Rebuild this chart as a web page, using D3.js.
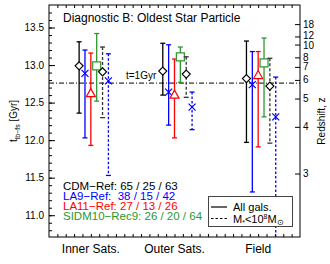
<!DOCTYPE html>
<html>
<head>
<meta charset="utf-8">
<script src="https://cdn.jsdelivr.net/npm/d3@7"></script>
<style>
  body { margin: 0; background: #fff; }
  svg { display: block; font-family: "Liberation Sans", Arial, sans-serif; }
</style>
</head>
<body>
<div id="chart"></div>
<script>
// groups along the x axis
var groups = ["Inner Sats.", "Outer Sats.", "Field"];

// series: name, colour, marker, dashed (dwarf subsample) and slot offset inside a group
var seriesNames = ["CDM all", "LA9 all", "LA11 all", "SIDM all", "CDM dwarf", "LA9 dwarf"];
var seriesColors = ["#000000", "#0000ff", "#ff0000", "#2e962e", "#000000", "#0000ff"];
var seriesMarkers = ["diamond", "cross", "triangle", "square", "diamond", "cross"];
var seriesDashed = [false, false, false, false, true, true];
var seriesSlot = [-2, -1, 0, 1, 2, 3];

// median / upper / lower lookback time of the oldest star particle [Gyr]
var medians = [
  [12.99, 12.92, 12.82],
  [12.89, 12.64, 12.74],
  [12.62, 12.60, 12.86],
  [12.99, 13.11, 13.03],
  [12.91, 12.88, 12.72],
  [12.79, 12.44, 12.31]
];
var highs = [
  [13.31, 13.29, 13.32],
  [13.20, 13.27, 13.18],
  [13.16, 13.08, 13.18],
  [13.42, 13.24, 13.36],
  [13.24, 13.11, 13.09],
  [13.15, 12.64, 12.84]
];
var lows = [
  [12.36, 12.60, 11.97],
  [12.03, 12.20, 11.31],
  [11.93, 12.03, 11.91],
  [12.52, 12.77, 12.31],
  [12.30, 12.57, 11.96],
  [11.53, 12.14, 10.50]
];

// legend text
var countLabels = ["CDM\u2212Ref: 65 / 25 / 63", "LA9\u2212Ref:  38 / 15 / 42", "LA11\u2212Ref: 27 / 13 / 26", "SIDM10\u2212Rec9: 26 / 20 / 64"];
var countColors = ["#000000", "#0000ff", "#ff0000", "#2e962e"];

var yTicks = [11.0, 11.5, 12.0, 12.5, 13.0, 13.5];
var zTicks = [18, 12, 10, 8, 7, 6, 5, 4, 3];
var tOneGyr = 12.76;

var W = 330, H = 264;
var m = { l: 49, r: 300, t: 5, b: 237 };

var svg = d3.select("#chart").append("svg")
  .attr("width", W)
  .attr("height", H);

var x = d3.scaleLinear().domain([0, 3]).range([m.l, m.r]);
var y = d3.scaleLinear().domain([10.71, 13.8]).range([m.b, m.t]);

// lookback time at redshift z (flat LCDM, WMAP7-like)
var H0 = 70.4, Om = 0.272, OL = 1 - Om;
function age(z) {
  var th = 977.8 / H0;
  return 2 / (3 * Math.sqrt(OL)) * th * Math.asinh(Math.sqrt(OL / Om) * Math.pow(1 + z, -1.5));
}
function lookback(z) { return age(0) - age(z); }

svg.append("defs").append("clipPath").attr("id", "clip")
  .append("rect").attr("x", m.l).attr("y", m.t).attr("width", m.r - m.l).attr("height", m.b - m.t);

// left axis: major ticks + minor ticks every 0.1
var gl = svg.append("g").attr("transform", `translate(${m.l},0)`);
gl.call(d3.axisRight(y).tickValues(d3.range(10.8, 13.75, 0.1)).tickSize(3).tickFormat(""));
gl.append("g").call(d3.axisRight(y).tickValues(yTicks).tickSize(6).tickFormat(""));
gl.selectAll(".domain").remove();
gl.selectAll("line").attr("stroke", "#000");
svg.append("g").selectAll("text").data(yTicks).join("text")
  .attr("x", m.l - 5).attr("y", d => y(d) + 3.5)
  .attr("text-anchor", "end").attr("font-size", 10)
  .text(d => d3.format(".1f")(d));

// bottom and top minor ticks
var gb = svg.append("g").attr("transform", `translate(0,${m.b})`)
  .call(d3.axisTop(x).tickValues(d3.range(0.1, 3, 0.1)).tickSize(3).tickFormat(""));
var gt = svg.append("g").attr("transform", `translate(0,${m.t})`)
  .call(d3.axisBottom(x).tickValues(d3.range(0.1, 3, 0.1)).tickSize(3).tickFormat(""));
gb.selectAll(".domain").remove();
gt.selectAll(".domain").remove();
svg.append("g").selectAll("text").data(groups).join("text")
  .attr("x", (d, i) => x(i + 0.5)).attr("y", m.b + 16)
  .attr("text-anchor", "middle").attr("font-size", 12)
  .text(d => d);

// right axis: redshift
var gr = svg.append("g").attr("transform", `translate(${m.r},0)`);
gr.call(d3.axisLeft(y).tickValues(zTicks.map(lookback)).tickSize(5).tickFormat(""));
gr.selectAll(".domain").remove();
svg.append("g").selectAll("text").data(zTicks).join("text")
  .attr("x", m.r + 3).attr("y", d => y(lookback(d)) + (d === 12 ? 2.5 : d === 10 ? 4.5 : 3.5))
  .attr("font-size", 10)
  .text(d => d);

// axis titles
var yl = svg.append("text")
  .attr("transform", `translate(17,${(m.t + m.b) / 2}) rotate(-90)`)
  .attr("text-anchor", "middle").attr("font-size", 10);
yl.append("tspan").text("t");
yl.append("tspan").attr("font-size", 7).attr("dy", 2.5).text("lb\u2212fs");
yl.append("tspan").attr("dy", -2.5).text(" [Gyr]");
svg.append("text")
  .attr("transform", `translate(325,${(m.t + m.b) / 2}) rotate(-90)`)
  .attr("text-anchor", "middle").attr("font-size", 10)
  .text("Redshift, z");

// title
svg.append("text").attr("x", 63).attr("y", 22).attr("font-size", 12)
  .text("Diagnostic B: Oldest Star Particle");

// t = 1 Gyr line
svg.append("line")
  .attr("x1", m.l).attr("x2", m.r)
  .attr("y1", y(tOneGyr)).attr("y2", y(tOneGyr))
  .attr("stroke", "#000").attr("stroke-width", 1)
  .attr("stroke-dasharray", "5,2,1,2");
svg.append("text").attr("x", 126).attr("y", y(tOneGyr) - 4).attr("font-size", 10)
  .text("t=1Gyr");

// error bars + markers
var plot = svg.append("g").attr("clip-path", "url(#clip)");
var bars = [];
seriesNames.forEach(function (s, si) {
  groups.forEach(function (g, gi) {
    bars.push({
      si: si,
      xv: gi + 0.5 + seriesSlot[si] * 0.07,
      med: medians[si][gi], hi: highs[si][gi], lo: lows[si][gi]
    });
  });
});

function dashOf(d) {
  if (!seriesDashed[d.si]) return null;
  return d.si === 4 ? "3,2" : "2.5,2";
}
function colOf(d) {
  if (d.si === 4) return "#333";
  return seriesColors[d.si];
}

var bg = plot.selectAll("g.bar").data(bars).join("g").attr("class", "bar");
bg.append("line")
  .attr("x1", d => x(d.xv)).attr("x2", d => x(d.xv))
  .attr("y1", d => y(d.hi)).attr("y2", d => y(d.lo))
  .attr("stroke", colOf).attr("stroke-width", 1.3)
  .attr("stroke-dasharray", dashOf);
bg.append("line")
  .attr("x1", d => x(d.xv) - 2.5).attr("x2", d => x(d.xv) + 2.5)
  .attr("y1", d => y(d.hi)).attr("y2", d => y(d.hi))
  .attr("stroke", colOf).attr("stroke-width", 1.3);
bg.append("line")
  .attr("x1", d => x(d.xv) - 2.5).attr("x2", d => x(d.xv) + 2.5)
  .attr("y1", d => y(d.lo)).attr("y2", d => y(d.lo))
  .attr("stroke", colOf).attr("stroke-width", 1.3);

function markerPath(type) {
  if (type === "diamond") return "M0,-4L4,0L0,4L-4,0Z";
  if (type === "square") return "M-4,-4H4V4H-4Z";
  if (type === "triangle") return "M0,-5L4.5,3L-4.5,3Z";
  return "M-3.5,-3.5L3.5,3.5M-3.5,3.5L3.5,-3.5";
}
bg.append("path")
  .attr("transform", d => `translate(${x(d.xv)},${y(d.med)})`)
  .attr("d", d => markerPath(seriesMarkers[d.si]))
  .attr("fill", d => seriesMarkers[d.si] === "cross" ? "none" : "#fff")
  .attr("stroke", d => seriesColors[d.si])
  .attr("stroke-width", 1.2);

// frame
svg.append("rect")
  .attr("x", m.l).attr("y", m.t)
  .attr("width", m.r - m.l).attr("height", m.b - m.t)
  .attr("fill", "none").attr("stroke", "#000").attr("stroke-width", 1);

// run counts legend
svg.append("g").selectAll("text").data(countLabels).join("text")
  .attr("x", 63).attr("y", (d, i) => 189.5 + i * 10.3)
  .attr("font-size", 11.5).attr("fill", (d, i) => countColors[i])
  .attr("xml:space", "preserve").style("white-space", "pre")
  .text(d => d);

// line style legend
var lg = svg.append("g");
lg.append("rect").attr("x", 208.5).attr("y", 196.5).attr("width", 84).attr("height", 30)
  .attr("fill", "#fff").attr("stroke", "#444").attr("stroke-width", 1);
lg.append("line").attr("x1", 211).attr("x2", 227).attr("y1", 207).attr("y2", 207)
  .attr("stroke", "#000").attr("stroke-width", 1.2);
lg.append("line").attr("x1", 211).attr("x2", 227).attr("y1", 218.5).attr("y2", 218.5)
  .attr("stroke", "#000").attr("stroke-width", 1.2).attr("stroke-dasharray", "2.5,2");
lg.append("text").attr("x", 233).attr("y", 211).attr("font-size", 11).text("All gals.");
var mt = lg.append("text").attr("x", 233).attr("y", 222.5).attr("font-size", 11);
mt.append("tspan").text("M");
mt.append("tspan").attr("font-size", 7).attr("dy", 2).text("*");
mt.append("tspan").attr("dy", -2).text("<10");
mt.append("tspan").attr("font-size", 7).attr("dy", -4).text("8");
mt.append("tspan").attr("dy", 4).text("M");
mt.append("tspan").attr("font-size", 8).attr("dy", 2).text("\u2299");
</script>
</body>
</html>
